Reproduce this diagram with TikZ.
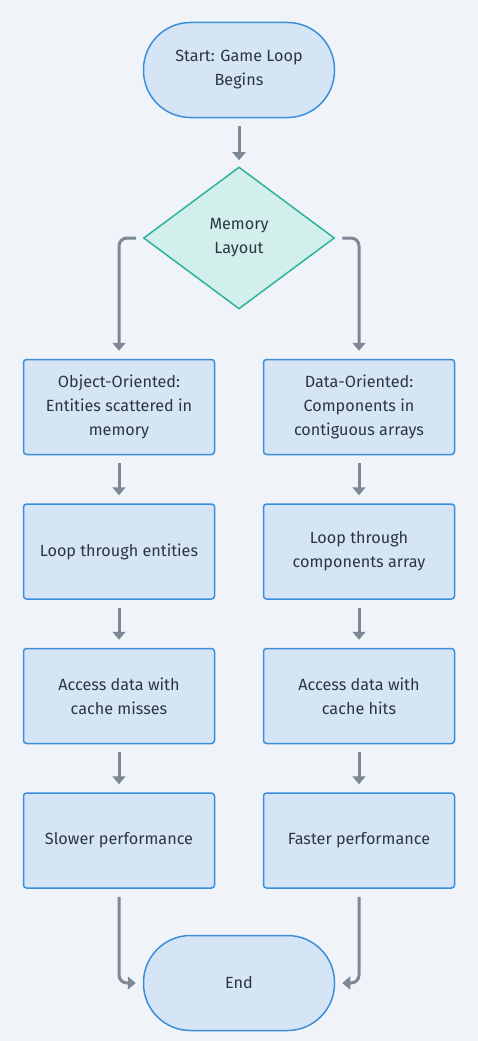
\documentclass[tikz,border=0pt]{standalone}
\usepackage{fontspec}
\setmainfont{Fira Sans}
\usepackage{xcolor}
\usetikzlibrary{shapes.geometric,arrows.meta,positioning}
\definecolor{bgcol}{HTML}{F0F4F8}
\definecolor{boxfill}{HTML}{D5E5F5}
\definecolor{boxline}{HTML}{3A8EDB}
\definecolor{decfill}{HTML}{D2EFEC}
\definecolor{decline}{HTML}{2BB39C}
\definecolor{txtcol}{HTML}{2A3645}
\definecolor{flowcol}{HTML}{7C8895}
\begin{document}
\begin{tikzpicture}[x=1pt, y=-1pt, node distance=48pt, font=\fontsize{16.2}{24}\selectfont]
    \tikzstyle{procbox} = [draw=boxline, fill=boxfill, line width=1.5pt, rectangle, rounded corners=3pt, minimum width=191pt, minimum height=95pt, align=center, text=txtcol]
    \tikzstyle{terminal} = [procbox, rounded corners=47pt]
    \tikzstyle{decision} = [draw=decline, fill=decfill, line width=1.5pt, diamond, aspect=1.34, inner sep=0pt, minimum width=191pt, minimum height=142pt, align=center, text=txtcol]
    \tikzstyle{flow} = [draw=flowcol, line width=3pt, -{Triangle[width=13pt,length=8pt]}, rounded corners=8pt]

    % background and margins
    \fill[bgcol] (0,0) rectangle (478,1041);
    \useasboundingbox (0,0) rectangle (478,1041);

    \node [terminal] (start) at (239,70) {Start: Game Loop\\Begins};
    \node [decision] (layout) at (239,238) {Memory\\Layout};

    % object-oriented branch
    \node [procbox] (oop) at (119,407) {Object-Oriented:\\Entities scattered in\\memory};
    \node [procbox, below=48pt of oop] (oloop) {Loop through entities};
    \node [procbox, below=48pt of oloop] (omiss) {Access data with\\cache misses};
    \node [procbox, below=48pt of omiss] (oslow) {Slower performance};

    % data-oriented branch
    \node [procbox] (dod) at (359,407) {Data-Oriented:\\Components in\\contiguous arrays};
    \node [procbox, below=48pt of dod] (dloop) {Loop through\\components array};
    \node [procbox, below=48pt of dloop] (dhit) {Access data with\\cache hits};
    \node [procbox, below=48pt of dhit] (dfast) {Faster performance};

    \node [terminal] (finish) at (239,983) {End};

    \draw [flow, shorten <=8pt, shorten >=6pt] (start) -- (layout);
    \draw [flow, shorten <=7pt, shorten >=8pt] (layout.west) -| (oop.north);
    \draw [flow, shorten <=7pt, shorten >=8pt] (layout.east) -| (dod.north);
    \draw [flow, shorten <=8pt, shorten >=8pt] (oop) -- (oloop);
    \draw [flow, shorten <=8pt, shorten >=8pt] (oloop) -- (omiss);
    \draw [flow, shorten <=8pt, shorten >=8pt] (omiss) -- (oslow);
    \draw [flow, shorten <=8pt, shorten >=8pt] (dod) -- (dloop);
    \draw [flow, shorten <=8pt, shorten >=8pt] (dloop) -- (dhit);
    \draw [flow, shorten <=8pt, shorten >=8pt] (dhit) -- (dfast);
    \draw [flow, shorten <=8pt, shorten >=7pt] (oslow.south) |- (finish.west);
    \draw [flow, shorten <=8pt, shorten >=7pt] (dfast.south) |- (finish.east);
\end{tikzpicture}
\end{document}
